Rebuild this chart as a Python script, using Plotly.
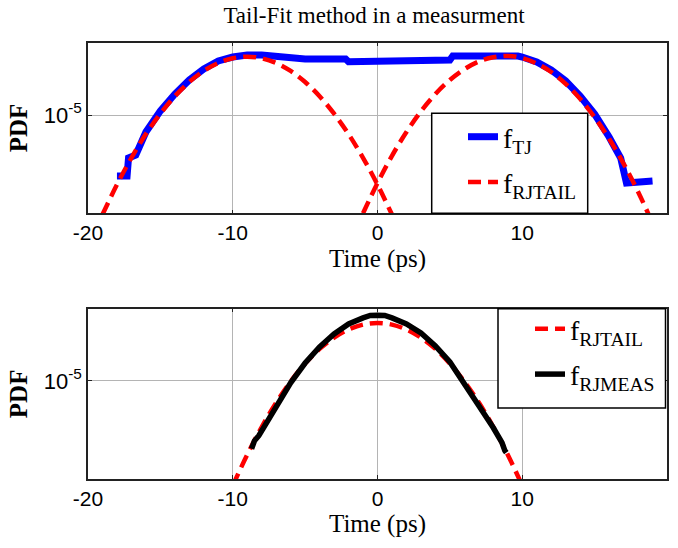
import plotly.graph_objects as go

# ---------------- data ----------------
# Top panel: measured total jitter PDF (f_TJ)
x_tj = [-18.0, -17.3, -17.2, -16.7, -16, -15, -14, -13, -12, -11, -10, -9, -8, -7, -6, -5,
        -3, -2.2, -2.0, 0, 2.1, 2.3, 4, 5.0, 5.2, 7, 9, 9.7, 10, 11, 12, 13, 14, 15, 16,
        16.5, 16.8, 17.2, 19.0]
pdf_tj = [2.45e-6, 2.45e-6, 3.72e-6, 3.98e-6, 6.76e-6, 1.10e-5, 1.62e-5, 2.24e-5, 2.88e-5,
          3.47e-5, 3.80e-5, 3.98e-5, 3.98e-5, 3.89e-5, 3.80e-5, 3.63e-5, 3.63e-5, 3.63e-5,
          3.41e-5, 3.41e-5, 3.41e-5, 3.55e-5, 3.55e-5, 3.55e-5, 3.89e-5, 3.89e-5, 3.98e-5,
          3.89e-5, 3.80e-5, 3.39e-5, 2.82e-5, 2.19e-5, 1.55e-5, 1.02e-5, 6.03e-6, 4.47e-6,
          3.72e-6, 2.09e-6, 2.19e-6]

# Top panel: left tail fit (f_RJTAIL)
x_tail_left = [-19, -18, -17, -16, -15, -14, -13, -12, -11, -10, -9, -8, -7, -6, -5, -4, -3,
               -2, -1, 0, 1]
pdf_tail_left = [1.01e-6, 2.01e-6, 3.73e-6, 6.44e-6, 1.03e-5, 1.54e-5, 2.14e-5, 2.76e-5,
                 3.31e-5, 3.69e-5, 3.83e-5, 3.69e-5, 3.31e-5, 2.76e-5, 2.14e-5, 1.54e-5,
                 1.03e-5, 6.44e-6, 3.73e-6, 2.01e-6, 1.01e-6]

# Top panel: right tail fit (f_RJTAIL)
x_tail_right = [-1, 0, 1, 2, 3, 4, 5, 6, 7, 8, 9, 10, 11, 12, 13, 14, 15, 16, 17, 18, 19]
pdf_tail_right = [1.04e-6, 2.09e-6, 3.91e-6, 6.76e-6, 1.09e-5, 1.62e-5, 2.24e-5, 2.87e-5,
                  3.43e-5, 3.78e-5, 3.89e-5, 3.71e-5, 3.27e-5, 2.69e-5, 2.05e-5, 1.45e-5,
                  9.48e-6, 5.78e-6, 3.27e-6, 1.71e-6, 8.3e-7]

# Bottom panel: fitted RJ (f_RJTAIL)
x_rj_tail = [-10, -9, -8, -7, -6, -5, -4, -3, -2, -1, 0, 1, 2, 3, 4, 5, 6, 7, 8, 9, 10]
pdf_rj_tail = [8.95e-7, 1.82e-6, 3.45e-6, 6.06e-6, 9.86e-6, 1.49e-5, 2.09e-5, 2.71e-5,
               3.27e-5, 3.66e-5, 3.80e-5, 3.66e-5, 3.27e-5, 2.71e-5, 2.09e-5, 1.49e-5,
               9.86e-6, 6.06e-6, 3.45e-6, 1.82e-6, 8.95e-7]

# Bottom panel: measured RJ (f_RJMEAS)
x_rj_meas = [-8.7, -8.5, -8.2, -8, -7, -6, -5, -4, -3, -2, -1, -0.5, 0, 0.5, 1, 2, 3, 4, 5,
             6, 7, 8, 8.4, 8.6, 8.8, 8.9]
pdf_rj_meas = [2.09e-6, 2.51e-6, 2.82e-6, 3.16e-6, 5.37e-6, 9.55e-6, 1.51e-5, 2.19e-5,
               2.95e-5, 3.72e-5, 4.27e-5, 4.52e-5, 4.54e-5, 4.52e-5, 4.27e-5, 3.72e-5,
               3.02e-5, 2.24e-5, 1.55e-5, 9.55e-6, 5.62e-6, 3.39e-6, 2.75e-6, 2.40e-6,
               2.00e-6, 1.91e-6]

x_ticks = [-20, -10, 0, 10, 20]
x_tick_text = ["-20", "-10", "0", "10", "20"]
y_ticks = [1e-5]
y_tick_text = ["10<sup>-5</sup>"]

# ---------------- styling ----------------
SERIF = "Liberation Serif"
SANS = "Liberation Sans"
BLUE = "#0000ff"
RED = "#ff0000"
DASH = "13px,7px"
W, H = 678, 548
ML, MR = 88, 11

fig = go.Figure()

fig.add_trace(go.Scatter(x=x_tj, y=pdf_tj, mode="lines", name="f<sub>TJ</sub>",
                         line=dict(color=BLUE, width=7), legend="legend",
                         legendgroup="a"))
fig.add_trace(go.Scatter(x=x_tail_left, y=pdf_tail_left, mode="lines",
                         name="f<sub>RJTAIL</sub>",
                         line=dict(color=RED, width=4.5, dash=DASH, shape="spline"),
                         legend="legend", legendgroup="b"))
fig.add_trace(go.Scatter(x=x_tail_right, y=pdf_tail_right, mode="lines",
                         name="f<sub>RJTAIL</sub>", showlegend=False,
                         line=dict(color=RED, width=4.5, dash=DASH, shape="spline"),
                         legend="legend", legendgroup="b"))

fig.add_trace(go.Scatter(x=x_rj_tail, y=pdf_rj_tail, mode="lines",
                         name="f<sub>RJTAIL</sub>",
                         line=dict(color=RED, width=4.5, dash=DASH, shape="spline"),
                         xaxis="x2", yaxis="y2", legend="legend2", legendgroup="c"))
fig.add_trace(go.Scatter(x=x_rj_meas, y=pdf_rj_meas, mode="lines",
                         name="f<sub>RJMEAS</sub>",
                         line=dict(color="black", width=5.5), xaxis="x2", yaxis="y2",
                         legend="legend2", legendgroup="d"))


def px_y(py):
    return 1 - py / H


def px_x(px):
    return (px - ML) / (W - ML - MR)


top_dom = [px_y(213.3), px_y(42.7)]
bot_dom = [px_y(479.0), px_y(308.7)]
yrange = [-5.983, -4.277]

xaxis_common = dict(
    range=[-20, 20], tickvals=x_ticks, ticktext=x_tick_text,
    tickfont=dict(family=SANS, size=21, color="black"),
    showgrid=True, gridcolor="#b4b4b4", gridwidth=1,
    showline=True, linecolor="#222222", linewidth=1.5, mirror="ticks",
    ticks="inside", ticklen=4, tickcolor="#222222", zeroline=False,
    title=dict(text="Time (ps)", font=dict(family=SERIF, size=25, color="black"),
               standoff=6),
)
yaxis_common = dict(
    type="log", range=yrange, tickvals=y_ticks, ticktext=y_tick_text,
    tickfont=dict(family=SANS, size=22, color="black"),
    showgrid=True, gridcolor="#b4b4b4", gridwidth=1,
    showline=True, linecolor="#222222", linewidth=1.5, mirror="ticks",
    ticks="inside", ticklen=4, tickcolor="#222222", zeroline=False,
    title=dict(text="PDF", font=dict(family=SERIF, size=25, color="black", weight="bold"),
               standoff=9),
)

legend_common = dict(
    bgcolor="rgba(0,0,0,0)", borderwidth=0,
    font=dict(family=SERIF, size=28, color="black"),
    xanchor="left", yanchor="top", traceorder="grouped", tracegroupgap=6,
    itemwidth=30,
)

fig.update_layout(
    width=W, height=H,
    margin=dict(l=ML, r=MR, t=0, b=0),
    paper_bgcolor="white", plot_bgcolor="white",
    title=dict(text="Tail-Fit method in a measurment", x=(377 - 3) / W,
               xanchor="center", y=1 - 15 / H, yanchor="middle",
               font=dict(family=SERIF, size=23, color="black")),
    xaxis=dict(domain=[0, 1], anchor="y", **xaxis_common),
    yaxis=dict(domain=top_dom, anchor="x", **yaxis_common),
    xaxis2=dict(domain=[0, 1], anchor="y2", **xaxis_common),
    yaxis2=dict(domain=bot_dom, anchor="x2", **yaxis_common),
    legend=dict(x=px_x(463), y=px_y(112), **legend_common),
    legend2=dict(x=px_x(530), y=px_y(304), **legend_common),
    showlegend=True,
    shapes=[
        dict(type="rect", xref="paper", yref="paper", layer="above",
             x0=px_x(431.7), x1=px_x(587.7), y0=top_dom[0], y1=px_y(113.3),
             fillcolor="white", line=dict(color="black", width=1.5)),
        dict(type="rect", xref="paper", yref="paper", layer="above",
             x0=px_x(498), x1=px_x(665.5), y0=px_y(408), y1=bot_dom[1],
             fillcolor="white", line=dict(color="black", width=1.5)),
    ],
)

fig.write_html("out.html")
